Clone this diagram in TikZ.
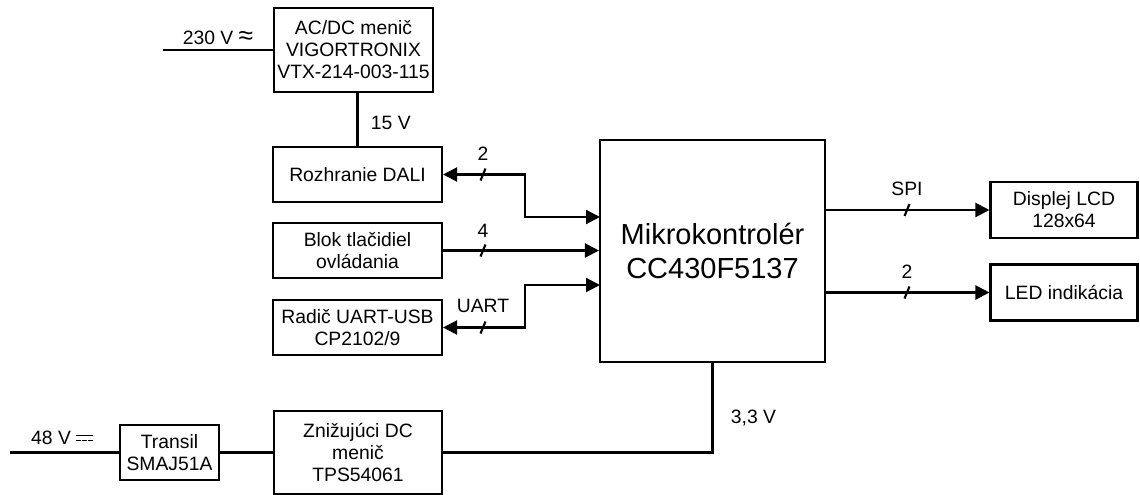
\documentclass[tikz,border=0pt]{standalone}
\usepackage{fontspec}
\setmainfont{Liberation Sans}
\usetikzlibrary{arrows.meta}
\newcommand{\dcsign}{\raisebox{0.18em}{\vbox{\hrule width 0.85em height 0.08em \vskip0.17em
 \hbox{\rule{0.23em}{0.08em}\hskip0.08em\rule{0.23em}{0.08em}\hskip0.08em\rule{0.23em}{0.08em}}}}}
\newcommand{\acsign}{{\fontsize{15}{15}\selectfont ≈}}

\begin{document}
\begin{tikzpicture}[x=0.02cm, y=-0.02cm, line width=1.2pt,
  >={Triangle[length=0.28cm,width=0.28cm]},
  every node/.style={font=\fontsize{11}{12.5}\selectfont},
  blok/.style={draw, align=center, inner sep=1pt},
  mcubox/.style={draw, align=center, minimum width=4.5cm, minimum height=4.44cm,
    font=\fontsize{16.5}{19}\selectfont}]
\useasboundingbox (0,0) rectangle (1140,494);
% power part:
\node[blok, minimum width=3.18cm, minimum height=1.68cm] (acdc) at (353.5,50) {AC/DC menič\\VIGORTRONIX\\VTX-214-003-115};
\node[blok, minimum width=1.98cm, minimum height=1.1cm] (transil) at (169.5,452.5) {Transil\\SMAJ51A};
\node[blok, minimum width=3.36cm, minimum height=1.66cm] (dcdc) at (358,452.5) {Znižujúci DC\\menič\\TPS54061};
% left blocks:
\node[blok, minimum width=3.38cm, minimum height=1.1cm] (dali) at (357.5,174.5) {Rozhranie DALI};
\node[blok, minimum width=3.38cm, minimum height=1.1cm] (tlac) at (357.5,250.5) {Blok tlačidiel\\ovládania};
\node[blok, minimum width=3.38cm, minimum height=1.1cm] (uart) at (357.5,327.5) {Radič UART-USB\\CP2102/9};
% mcu and outputs:
\node[mcubox] (mcu) at (712.5,251) {Mikrokontrolér\\CC430F5137};
\node[blok, minimum width=2.94cm, minimum height=1.12cm] (lcd) at (1064,210) {Displej LCD\\128x64};
\node[blok, minimum width=2.94cm, minimum height=1.12cm] (led) at (1064,292.5) {LED indikácia};
\coordinate (in230) at (163,50);
\coordinate (in48) at (10,452.5);
\coordinate (dalipin) at (600,217);
\coordinate (uartpin) at (600,285);
% supply lines:
\draw (in230) -- (acdc.west);
\draw (acdc.south -| dali.north) -- (dali.north);
\draw (in48) -- (transil.west);
\draw (transil.east) -- (dcdc.west);
\draw (dcdc.east) -| (mcu.south);
\node (l230) at (218,38) {230 V \acsign};
\node[anchor=west] (l15) at (364,123) {15 V};
\node (l48) at (62,438) {48 V \dcsign};
\node[anchor=west] (l33) at (724,418) {3,3 V};
% buses:
\draw[<->] (dali.east) -| (525,217) -- (dalipin);
\draw[->] (tlac.east) -- (tlac.east -| mcu.west);
\draw[<->] (uart.east) -| (525,285) -- (uartpin);
\draw[->] (mcu.east |- lcd.west) -- (lcd.west);
\draw[->] (mcu.east |- led.west) -- (led.west);
\foreach \p in {(483,174.5),(483,250.5),(483,327.5),(907,210),(907,292.5)}
  \draw[shift={\p}] (-2.5,6) -- (2.5,-6);
\node (ndali) at (483,154) {2};
\node (ntlac) at (483,231) {4};
\node (nuart) at (483,306) {UART};
\node (nspi) at (907,189) {SPI};
\node (nled) at (907,272) {2};
\end{tikzpicture}
\end{document}
